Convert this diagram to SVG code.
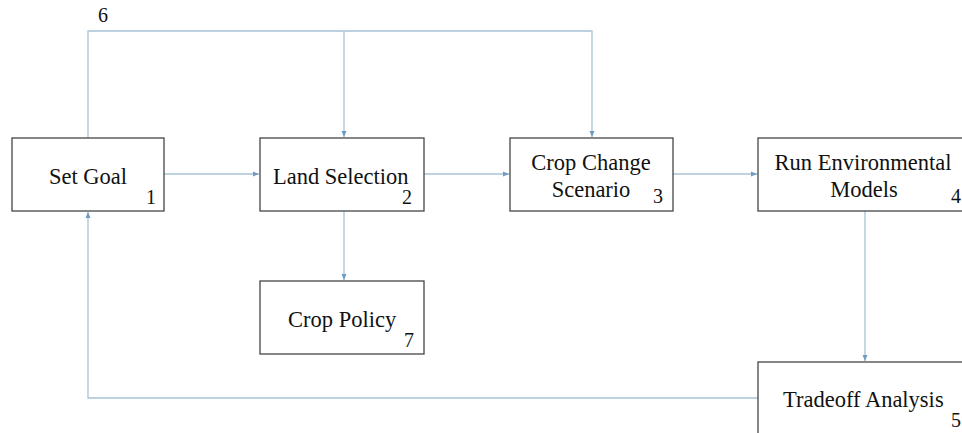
<svg xmlns="http://www.w3.org/2000/svg" width="962" height="433" viewBox="0 0 962 433">
<defs>
<style>
.box{fill:#fff;stroke:#454545;stroke-width:1.3}
.lbl{font-family:'Liberation Serif','Times New Roman',Times,'DejaVu Serif',serif;font-size:22.5px;fill:#111}
.num{font-family:'Liberation Serif','Times New Roman',Times,'DejaVu Serif',serif;font-size:20px;fill:#111}
.c{fill:none;stroke:#a8c3d6;stroke-width:1.3}
</style>
<marker id="ah" viewBox="0 0 6 6" refX="6" refY="3" markerWidth="6" markerHeight="6" markerUnits="userSpaceOnUse" orient="auto">
<path d="M0,0.5 L6,3 L0,5.5 Z" fill="#6f9cc2"/>
</marker>
</defs>
<rect width="962" height="433" fill="#fff"/>
<g id="connectors">
<path class="c" d="M164,174 H259" marker-end="url(#ah)"/>
<path class="c" d="M424,174 H509" marker-end="url(#ah)"/>
<path class="c" d="M673,174 H757" marker-end="url(#ah)"/>
<path class="c" d="M88,138 V31 H592 V137" marker-end="url(#ah)"/>
<path class="c" d="M344,31 V137" marker-end="url(#ah)"/>
<path class="c" d="M344,211 V280" marker-end="url(#ah)"/>
<path class="c" d="M865,211 V361" marker-end="url(#ah)"/>
<path class="c" d="M758,398 H88 V212" marker-end="url(#ah)"/>
</g>
<g id="n1">
<rect class="box" x="12" y="138" width="152" height="73"/>
<text class="lbl" x="88" y="184" text-anchor="middle">Set Goal</text>
<text class="num" x="146" y="204">1</text>
</g>
<g id="n2">
<rect class="box" x="260" y="138" width="164" height="73"/>
<text class="lbl" x="273" y="184">Land Selection</text>
<text class="num" x="402" y="204">2</text>
</g>
<g id="n3">
<rect class="box" x="510" y="138" width="163" height="73"/>
<text class="lbl" x="591" y="170" text-anchor="middle">Crop Change</text>
<text class="lbl" x="591" y="197" text-anchor="middle">Scenario</text>
<text class="num" x="653" y="203">3</text>
</g>
<g id="n4">
<rect class="box" x="758" y="138" width="214" height="73"/>
<text class="lbl" x="863" y="170" text-anchor="middle">Run Environmental</text>
<text class="lbl" x="864" y="197" text-anchor="middle">Models</text>
<text class="num" x="951" y="203">4</text>
</g>
<g id="n7">
<rect class="box" x="260" y="281" width="164" height="73"/>
<text class="lbl" x="288" y="327">Crop Policy</text>
<text class="num" x="404" y="347">7</text>
</g>
<g id="n5">
<rect class="box" x="758" y="362" width="214" height="80"/>
<text class="lbl" x="783" y="407">Tradeoff Analysis</text>
<text class="num" x="951" y="427">5</text>
</g>
<text class="num" x="98" y="22">6</text>
</svg>
